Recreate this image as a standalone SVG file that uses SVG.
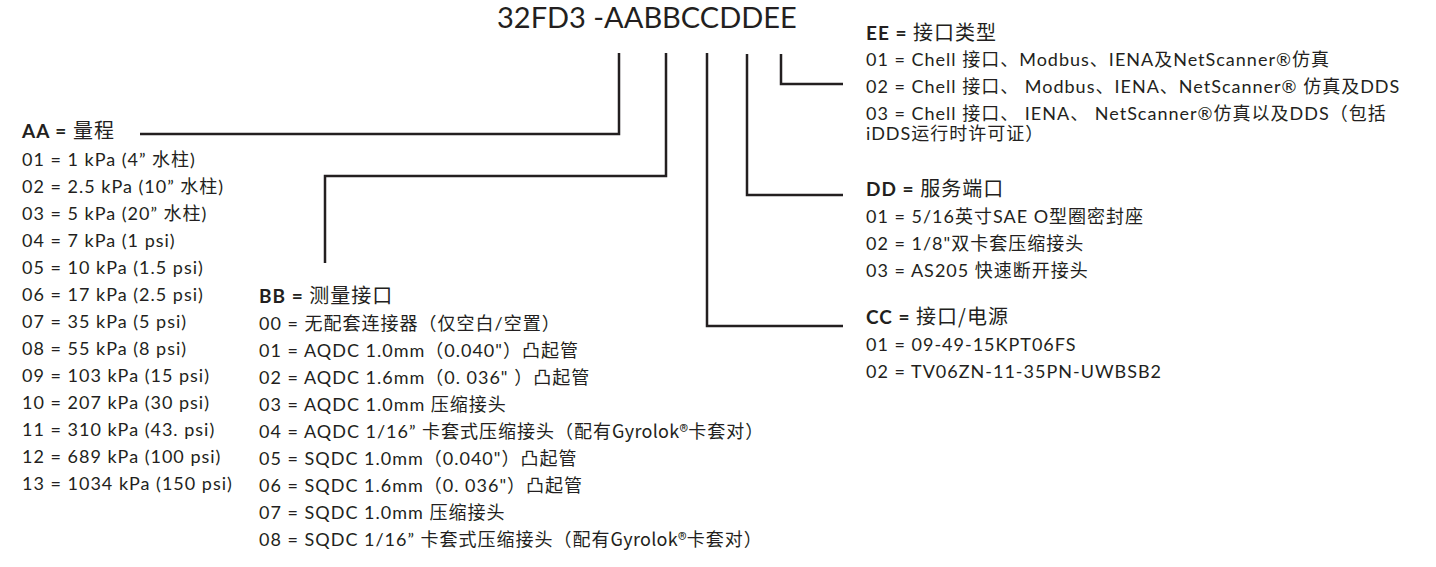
<svg xmlns="http://www.w3.org/2000/svg" width="1436" height="567" viewBox="0 0 1436 567">
<style>
text{font-family:Lato,"Noto Sans CJK SC",sans-serif;font-size:18px;letter-spacing:1px;fill:#231f20}
.t{font-size:29px;letter-spacing:0}
.h{font-size:19px}
.b{font-weight:bold}
.c{font-family:"Noto Sans CJK SC",sans-serif;font-size:20px;font-weight:normal}
.g{font-family:"Noto Sans CJK SC",sans-serif;letter-spacing:0.3px}
.ln{fill:none;stroke:#231f20;stroke-width:2.5}
</style>
<rect width="1436" height="567" fill="#fff"/>
<g id="title"><text class="t" x="497" y="28">32FD3 -AABBCCDDEE</text></g>
<g id="connectors">
<polyline class="ln" points="619,53 619,134 140,134"/>
<polyline class="ln" points="666,53 666,176 325,176 325,263"/>
<polyline class="ln" points="707,53 707,326 843,326"/>
<polyline class="ln" points="747,54 747,195 843,195"/>
<polyline class="ln" points="781,54 781,84 843,84"/>
</g>
<g id="AA">
<text class="h b" x="22" y="138">AA = <tspan class="c">量程</tspan></text>
<text x="22" y="166">01 = 1 kPa (4” 水柱)</text>
<text x="22" y="193">02 = 2.5 kPa (10” 水柱)</text>
<text x="22" y="220">03 = 5 kPa (20” 水柱)</text>
<text x="22" y="247">04 = 7 kPa (1 psi)</text>
<text x="22" y="274">05 = 10 kPa (1.5 psi)</text>
<text x="22" y="301">06 = 17 kPa (2.5 psi)</text>
<text x="22" y="328">07 = 35 kPa (5 psi)</text>
<text x="22" y="355">08 = 55 kPa (8 psi)</text>
<text x="22" y="382">09 = 103 kPa (15 psi)</text>
<text x="22" y="409">10 = 207 kPa (30 psi)</text>
<text x="22" y="436">11 = 310 kPa (43. psi)</text>
<text x="22" y="463">12 = 689 kPa (100 psi)</text>
<text x="22" y="490">13 = 1034 kPa (150 psi)</text>
</g>
<g id="BB">
<text class="h b" x="259" y="303">BB = <tspan class="c">测量接口</tspan></text>
<text x="259" y="330">00 = 无配套连接器（仅空白/空置）</text>
<text x="259" y="357">01 = AQDC 1.0mm（0.040"）凸起管</text>
<text x="259" y="384">02 = AQDC 1.6mm（0. 036" ）凸起管</text>
<text x="259" y="411">03 = AQDC 1.0mm 压缩接头</text>
<text x="259" y="438">04 = AQDC 1/16” 卡套式压缩接头（配有<tspan class="g">Gyrolok®</tspan>卡套对）</text>
<text x="259" y="465">05 = SQDC 1.0mm（0.040"）凸起管</text>
<text x="259" y="492">06 = SQDC 1.6mm（0. 036"）凸起管</text>
<text x="259" y="519">07 = SQDC 1.0mm 压缩接头</text>
<text x="259" y="546">08 = SQDC 1/16” 卡套式压缩接头（配有<tspan class="g">Gyrolok®</tspan>卡套对）</text>
</g>
<g id="EE">
<text class="h b" x="866" y="40">EE = <tspan class="c">接口类型</tspan></text>
<text x="866" y="66">01 = Chell 接口、Modbus、IENA及NetScanner®仿真</text>
<text x="866" y="93">02 = Chell 接口、 Modbus、IENA、NetScanner® 仿真及DDS</text>
<text x="866" y="120">03 = Chell 接口、 IENA、 NetScanner®仿真以及DDS（包括</text>
<text x="866" y="140">iDDS运行时许可证）</text>
</g>
<g id="DD">
<text class="h b" x="866" y="196">DD = <tspan class="c">服务端口</tspan></text>
<text x="866" y="223">01 = 5/16英寸SAE O型圈密封座</text>
<text x="866" y="250">02 = 1/8"双卡套压缩接头</text>
<text x="866" y="277">03 = AS205 快速断开接头</text>
</g>
<g id="CC">
<text class="h b" x="866" y="324">CC = <tspan class="c">接口/电源</tspan></text>
<text x="866" y="351">01 = 09-49-15KPT06FS</text>
<text x="866" y="378">02 = TV06ZN-11-35PN-UWBSB2</text>
</g>
</svg>
